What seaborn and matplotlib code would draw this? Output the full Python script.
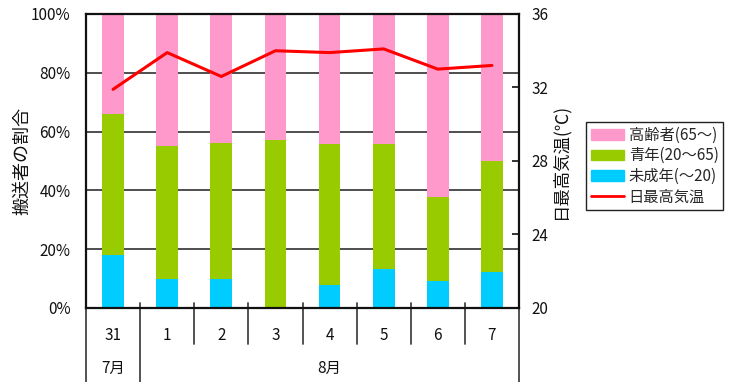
import numpy as np
import pandas as pd
import matplotlib
matplotlib.use("Agg")
import matplotlib.pyplot as plt
import matplotlib.transforms as mtransforms
from matplotlib.patches import Patch
from matplotlib.lines import Line2D
import seaborn as sns

# --- data -------------------------------------------------------------
days = ["31", "1", "2", "3", "4", "5", "6", "7"]
months = ["7月", "8月"]
month_span = [(0, 0), (1, 7)]          # first/last day index per month

child = [18.0, 9.9, 9.9, 0.0, 7.8, 13.3, 9.2, 12.4]      # 未成年(～20) %
adult = [48.0, 45.3, 46.2, 57.1, 48.0, 42.5, 28.6, 37.6]  # 青年(20～65) %
elderly = [34.0, 44.8, 43.9, 42.9, 44.2, 44.2, 62.2, 50.0]  # 高齢者(65～) %
temp_max = [31.9, 33.9, 32.6, 34.0, 33.9, 34.1, 33.0, 33.2]  # 日最高気温 ℃

pct_ticks = [0, 20, 40, 60, 80, 100]
temp_ticks = [20, 24, 28, 32, 36]

# --- style -------------------------------------------------------------
sns.set_theme(style="white")
plt.rcParams["font.family"] = ["Noto Sans CJK JP", "DejaVu Sans"]

C_ELD = "#FF99CC"
C_ADU = "#99CC00"
C_CHI = "#00CCFF"
C_TMP = "#FF0000"

df = pd.DataFrame({"day": days, "child": child, "adult": adult,
                   "elderly": elderly, "temp": temp_max})
bottom_adult = df["child"].to_numpy()
bottom_eld = bottom_adult + df["adult"].to_numpy()

fig = plt.figure(figsize=(7.29, 3.82), dpi=100)
ax = fig.add_axes([86 / 729, 1 - 308 / 382, (519 - 86) / 729, 294 / 382])

bw = 0.4
sns.barplot(data=df, x="day", y="child", color=C_CHI, width=bw,
            saturation=1, ax=ax, zorder=2, linewidth=0)
sns.barplot(data=df, x="day", y="adult", color=C_ADU, width=bw,
            saturation=1, ax=ax, zorder=2, linewidth=0, bottom=bottom_adult)
sns.barplot(data=df, x="day", y="elderly", color=C_ELD, width=bw,
            saturation=1, ax=ax, zorder=2, linewidth=0, bottom=bottom_eld)

ax.set_xlim(-0.5, len(days) - 0.5)
ax.set_ylim(0, 100)
ax.set_yticks(pct_ticks)
ax.set_yticklabels([f"{v}%" for v in pct_ticks])
ax.yaxis.grid(True, color="#404040", linewidth=1.3, zorder=1)
ax.set_axisbelow(True)
ax.tick_params(axis="y", length=0, pad=11, labelsize=11, colors="#111111")
ax.set_xticks([])
ax.set_xlabel("")
ax.set_ylabel("搬送者の割合", fontsize=13, labelpad=0, color="#111111")
for s in ax.spines.values():
    s.set_color("#111111")
    s.set_linewidth(1.6)

# temperature on the secondary axis
ax2 = ax.twinx()
sns.lineplot(x=np.arange(len(days)), y=df["temp"], color=C_TMP,
             linewidth=2.2, ax=ax2, zorder=5)
ax2.set_ylim(temp_ticks[0], temp_ticks[-1])
ax2.set_yticks(temp_ticks)
ax2.tick_params(axis="y", direction="in", length=5, width=1.2, pad=9,
                labelsize=11, colors="#111111")
ax2.set_ylabel("日最高気温(℃)", fontsize=12.5, labelpad=2, color="#111111")
ax2.grid(False)
for s in ax2.spines.values():
    s.set_visible(False)

# two-level category axis below the plot
trans = mtransforms.blended_transform_factory(ax.transData, ax.transAxes)
sep_kw = dict(color="#444444", linewidth=1.3, transform=trans, clip_on=False)
for i, d in enumerate(days):
    ax.text(i, -0.095, d, ha="center", va="center", fontsize=11,
            color="#111111", transform=trans)
month_starts = [a for a, b in month_span]
for k in range(1, len(days)):
    xb = k - 0.5
    low = -0.26 if k in month_starts else -0.122
    ax.plot([xb, xb], [0.017, low], **sep_kw)
for xb in (-0.5, len(days) - 0.5):
    ax.plot([xb, xb], [0, -0.26], **sep_kw)
for m, (a, b) in zip(months, month_span):
    ax.text((a + b) / 2, -0.206, m, ha="center", va="center", fontsize=11,
            color="#111111", transform=trans)

# legend
handles = [Patch(color=C_ELD), Patch(color=C_ADU), Patch(color=C_CHI),
           Line2D([], [], color=C_TMP, linewidth=2)]
labels = ["高齢者(65～)", "青年(20～65)", "未成年(～20)", "日最高気温"]
leg = fig.legend(handles, labels, loc="upper left",
                 bbox_to_anchor=(586 / 729, 1 - 122 / 382),
                 fontsize=11, frameon=True, fancybox=False,
                 edgecolor="#222222", framealpha=1, borderpad=0.3,
                 labelspacing=0.24, handlelength=2.2, handleheight=0.7,
                 handletextpad=0.3, borderaxespad=0)
leg.get_frame().set_linewidth(1.0)

fig.savefig("out.png", dpi=100)
